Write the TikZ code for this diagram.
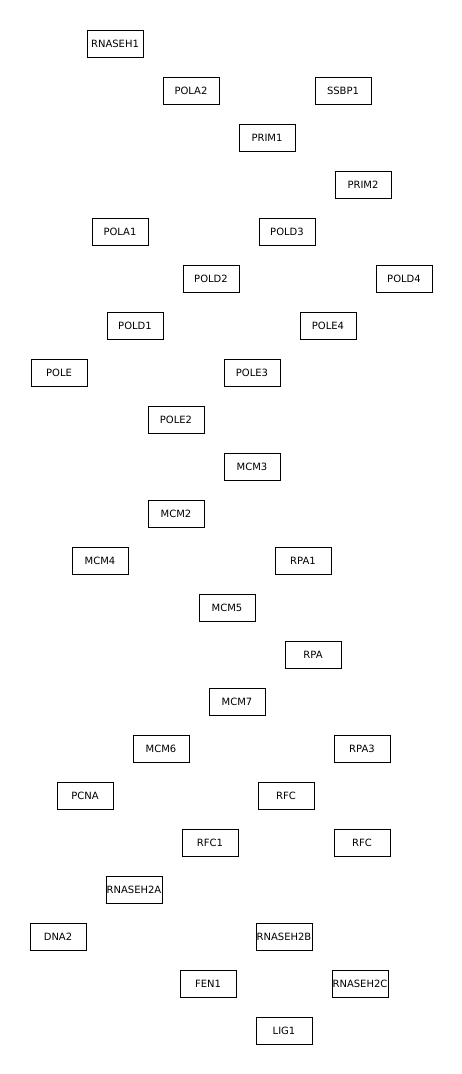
\documentclass[tikz,border=0pt]{standalone}
\usepackage{fontspec}
\setmainfont{DejaVu Sans}
\begin{document}
\begin{tikzpicture}[
    x=1pt, y=-1pt,
    g/.style={rectangle, draw, line width=0.8pt, minimum width=56pt, minimum height=27pt, inner sep=0pt, font=\fontsize{10}{12}\selectfont}
  ]
    \useasboundingbox (0,0) rectangle (462,1074);

    % Genes (nombre/x/y/etiqueta)
    \foreach \n/\x/\y/\t in {
      rnaseh1/115/44/RNASEH1, pola2/191/91/POLA2, ssbp1/343/91/SSBP1,
      prim1/267/138/PRIM1, prim2/363/185/PRIM2,
      pola1/120/232/POLA1, pold3/287/232/POLD3,
      pold2/211/279/POLD2, pold4/404/279/POLD4,
      pold1/135/326/POLD1, pole4/328/326/POLE4,
      pole/59/373/POLE, pole3/252/373/POLE3,
      pole2/176/420/POLE2, mcm3/252/467/MCM3, mcm2/176/514/MCM2,
      mcm4/100/561/MCM4, rpa1/303/561/RPA1,
      mcm5/227/608/MCM5, rpa/313/655/RPA, mcm7/237/702/MCM7,
      mcm6/161/749/MCM6, rpa3/362/749/RPA3,
      pcna/85/796/PCNA, rfc/286/796/RFC,
      rfc1/210/843/RFC1, rfcb/362/843/RFC,
      rnaseh2a/134/890/RNASEH2A,
      dna2/58/937/DNA2, rnaseh2b/284/937/RNASEH2B,
      fen1/208/984/FEN1, rnaseh2c/360/984/RNASEH2C,
      lig1/284/1031/LIG1} {
      \node[g] (\n) at (\x,\y) {\t};
    }
  \end{tikzpicture}
\end{document}
